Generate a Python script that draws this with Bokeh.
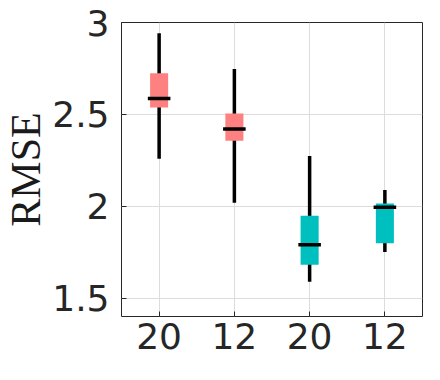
from bokeh.plotting import figure
from bokeh.models import ColumnDataSource, FixedTicker, Range1d
from bokeh.embed import file_html
from bokeh.resources import INLINE

labels = ["20", "12", "20", "12"]
lower = [2.259, 2.019, 1.589, 1.751]
q1 = [2.537, 2.357, 1.682, 1.798]
median = [2.587, 2.421, 1.790, 1.995]
q3 = [2.724, 2.505, 1.948, 2.015]
upper = [2.941, 2.747, 2.273, 2.089]
colors = ["#FF8080", "#FF8080", "#00BFBF", "#00BFBF"]
y_ticks = [1.5, 2, 2.5, 3]
y_label = "RMSE"

xs = list(range(1, len(labels) + 1))
box_w = 0.24
med_w = 0.3
src = ColumnDataSource(dict(
    x=xs, lower=lower, q1=q1, median=median, q3=q3, upper=upper, color=colors,
    mx0=[x - med_w / 2 for x in xs], mx1=[x + med_w / 2 for x in xs],
))

TXT = "#262626"
p = figure(width=424, height=364, output_backend="svg", toolbar_location=None,
           x_range=Range1d(0.5, len(labels) + 0.5), y_range=Range1d(1.4, 3.0),
           min_border_left=0, min_border_right=2, min_border_top=22, min_border_bottom=48)
p.background_fill_color = "white"
p.outline_line_color = TXT
p.outline_line_width = 1

p.segment(x0="x", y0="lower", x1="x", y1="upper", source=src, line_color="black", line_width=3.5)
p.vbar(x="x", width=box_w, bottom="q1", top="q3", source=src, fill_color="color", line_color=None)
p.segment(x0="mx0", y0="median", x1="mx1", y1="median", source=src, line_color="black", line_width=3.5)

p.xaxis.ticker = FixedTicker(ticks=xs)
p.xaxis.major_label_overrides = {x: l for x, l in zip(xs, labels)}
p.yaxis.ticker = FixedTicker(ticks=y_ticks)
p.yaxis.major_label_overrides = {1.5: "1.5", 2: "2", 2.5: "2.5", 3: "3"}

for ax in (p.xaxis[0], p.yaxis[0]):
    ax.axis_line_color = None
    ax.major_tick_in = 5
    ax.major_tick_out = 0
    ax.major_tick_line_color = TXT
    ax.minor_tick_line_color = None
    ax.major_label_text_font = "DejaVu Sans"
    ax.major_label_text_font_size = "36px"
    ax.major_label_text_color = TXT
p.xaxis.major_label_standoff = 6
p.yaxis.major_label_standoff = 12

p.yaxis.axis_label = y_label
p.yaxis.axis_label_text_font = "Liberation Serif"
p.yaxis.axis_label_text_font_style = "normal"
p.yaxis.axis_label_text_font_size = "42px"
p.yaxis.axis_label_text_line_height = 0.8
p.yaxis.axis_label_text_color = "#1a1a1a"
p.yaxis.axis_label_standoff = 0

p.xgrid.ticker = FixedTicker(ticks=xs)
p.ygrid.ticker = FixedTicker(ticks=y_ticks)
p.grid.grid_line_color = "#dcdcdc"
p.grid.grid_line_width = 1

out = file_html(p, INLINE)
open("out.html", "w").write(out)
